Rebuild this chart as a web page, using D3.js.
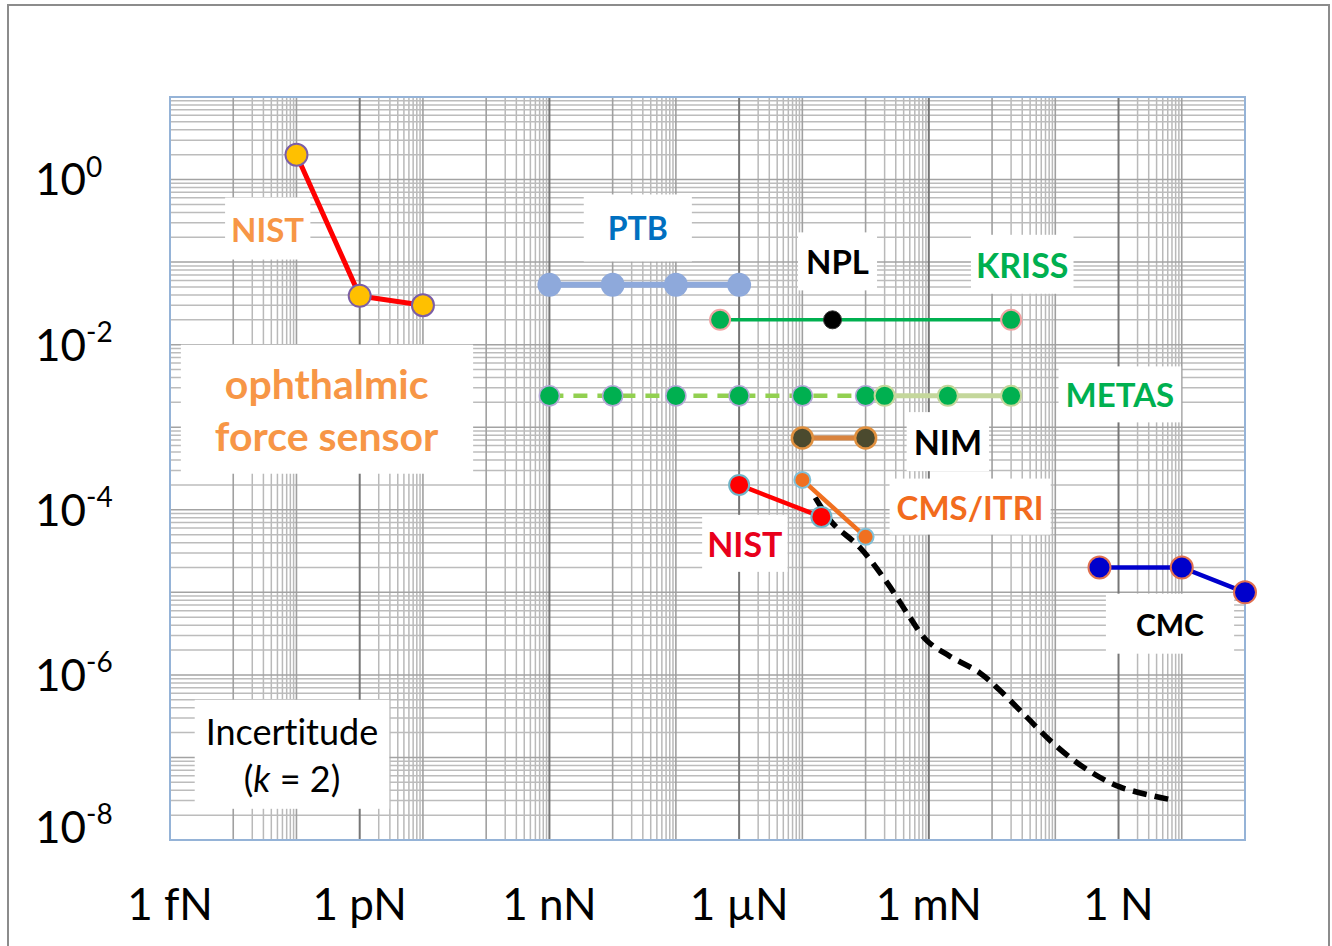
<!DOCTYPE html>
<html>
<head>
<meta charset="utf-8">
<script src="https://cdn.jsdelivr.net/npm/d3@7"></script>
<style>
  body { margin: 0; background: #fff; }
  svg { display: block; font-family: Lato, 'Open Sans', sans-serif; font-variant-ligatures: none; }
</style>
</head>
<body>
<svg id="chart" width="1332" height="946"></svg>
<script>
// force (N) vs relative uncertainty, one pair of arrays per lab
const ophthF = [1e-13, 1e-12, 1e-11];
const ophthU = [2.0, 0.039, 0.030];

const ptbF = [1e-9, 1e-8, 1e-7, 1e-6];
const ptbU = [0.053, 0.053, 0.053, 0.053];

const krissF = [5e-7, 0.02];
const krissU = [0.02, 0.02];

const nplF = [3e-5];
const nplU = [0.02];

const metasF = [1e-9, 1e-8, 1e-7, 1e-6, 1e-5, 1e-4];
const metasU = [0.0024, 0.0024, 0.0024, 0.0024, 0.0024, 0.0024];
const metasF2 = [2e-4, 2e-3, 2e-2];
const metasU2 = [0.0024, 0.0024, 0.0024];

const nimF = [1e-5, 1e-4];
const nimU = [7.4e-4, 7.4e-4];

const nistF = [1e-6, 2e-5];
const nistU = [2e-4, 8.2e-5];

const itriF = [1e-5, 1e-4];
const itriU = [2.3e-4, 4.7e-5];

const cmcF = [0.5, 10, 100];
const cmcU = [2e-5, 2e-5, 1e-5];

// dashed curve (state of the art, large forces)
const limitF = [1.6e-5, 3.0e-5, 8.1e-5, 2.2e-4, 5.0e-4, 9.3e-4, 2.1e-3, 6.5e-3, 1.3e-2, 3.5e-2, 9.1e-2, 0.28, 1.05, 6.5];
const limitU = [1.4e-4, 6.9e-5, 3.5e-5, 1.3e-5, 5.0e-6, 2.6e-6, 1.7e-6, 1.05e-6, 6.6e-7, 3.1e-7, 1.5e-7, 7.6e-8, 4.4e-8, 3.1e-8];

const xTicks = [1e-15, 1e-12, 1e-9, 1e-6, 1e-3, 1];
const xTickLabels = ['1 fN', '1 pN', '1 nN', '1 µN', '1 mN', '1 N'];
const yTicks = [1, 1e-2, 1e-4, 1e-6, 1e-8];
const yTickExp = ['0', '-2', '-4', '-6', '-8'];

// annotations, anchored in data space (centre of text block)
const labelText = [['NIST'], ['PTB'], ['NPL'], ['KRISS'], ['METAS'], ['NIM'], ['CMS/ITRI'], ['NIST'], ['CMC'],
  ['ophthalmic', 'force sensor'], ['Incertitude', '(k = 2)']];
const labelF = [3.5e-14, 2.5e-8, 3.6e-5, 0.03, 1.05, 2e-3, 4.5e-3, 1.23e-6, 6.5, 3e-13, 8.5e-14];
const labelU = [0.245, 0.25, 0.098, 0.09, 0.0024, 6.4e-4, 1.05e-4, 3.75e-5, 4e-6, 1.6e-3, 1.05e-7];

const labelStyle = [
  {color: '#F79646', size: 33, weight: 700, px: 6, py: 11},
  {color: '#0070C0', size: 32, weight: 700, px: 24, py: 14},
  {color: '#000', size: 33, weight: 700, px: 8, py: 9},
  {color: '#00B050', size: 34, weight: 700, px: 5, py: 9},
  {color: '#00B050', size: 33, weight: 700, px: 7, py: 8},
  {color: '#000', size: 34, weight: 700, px: 7, py: 9},
  {color: '#F26B1D', size: 33, weight: 700, px: 7, py: 8},
  {color: '#E8001C', size: 34, weight: 700, px: 5, py: 8},
  {color: '#000', size: 30, weight: 700, px: 30, py: 12},
  {color: '#F79646', size: 41, weight: 700, px: 34, py: 14, lh: 52},
  {color: '#000', size: 36, weight: 400, px: 11, py: 9, lh: 47}
];

const svg = d3.select('#chart');
const plotLeft = 170, plotRight = 1245, plotTop = 97, plotBottom = 840;

const x = d3.scaleLog().domain([1e-15, 1e2]).range([plotLeft, plotRight]);
const y = d3.scaleLog().domain([1e1, 1e-8]).range([plotTop, plotBottom]);

// outer frame of the picture
svg.append('rect')
  .attr('x', 8).attr('y', 5).attr('width', 1321).attr('height', 950)
  .attr('fill', 'none').attr('stroke', '#8c8c8c').attr('stroke-width', 2);

const grid = svg.append('g');

// vertical grid: every decade, minor lines only in the even decades
for (let e = -14; e <= 0; e += 2) {
  for (let k = 2; k <= 9; k++) {
    grid.append('line')
      .attr('x1', x(k * 10 ** e)).attr('x2', x(k * 10 ** e))
      .attr('y1', plotTop).attr('y2', plotBottom)
      .attr('stroke', '#b9b9b9').attr('stroke-width', 1.5);
  }
}
// horizontal grid: every decade with minors
for (let e = -8; e <= 0; e++) {
  for (let k = 1; k <= 9; k++) {
    if (k === 1 && e === -8) continue;
    grid.append('line')
      .attr('x1', plotLeft).attr('x2', plotRight)
      .attr('y1', y(k * 10 ** e)).attr('y2', y(k * 10 ** e))
      .attr('stroke', k === 1 ? '#a3a3a3' : '#bcbcbc').attr('stroke-width', 1.5);
  }
}
for (let e = -14; e <= 1; e++) {
  const major = e % 3 === 0;
  grid.append('line')
    .attr('x1', x(10 ** e)).attr('x2', x(10 ** e))
    .attr('y1', plotTop).attr('y2', plotBottom)
    .attr('stroke', major ? '#767676' : '#a0a0a0')
    .attr('stroke-width', major ? 2 : 1.6);
}

svg.append('rect')
  .attr('x', plotLeft).attr('y', plotTop)
  .attr('width', plotRight - plotLeft).attr('height', plotBottom - plotTop)
  .attr('fill', 'none').attr('stroke', '#95B3D7').attr('stroke-width', 2);

// axis labels (the end ones sit a little inside the frame)
const yl = svg.append('g');
yTicks.forEach((v, i) => {
  const cy = Math.max(plotTop + 76, Math.min(plotBottom - 13, y(v)));
  const t = yl.append('text')
    .attr('x', 35).attr('y', cy).attr('dy', '0.36em')
    .attr('font-size', 44).attr('fill', '#000');
  t.append('tspan').text('10');
  t.append('tspan').attr('dy', '-0.66em').attr('font-size', 28).text(yTickExp[i]);
});

svg.append('g').selectAll('text')
  .data(xTicks)
  .join('text')
    .attr('x', d => x(d)).attr('y', 920)
    .attr('text-anchor', 'middle')
    .attr('font-size', 44).attr('fill', '#000')
    .text((d, i) => xTickLabels[i]);

// layers: white boxes, then marks, then label text on top
const labelBoxes = svg.append('g');
const marks = svg.append('g');
const labels = svg.append('g');

labelText.forEach((lines, i) => {
  const s = labelStyle[i];
  const lh = s.lh || s.size;
  const cx = x(labelF[i]), cy = y(labelU[i]);
  const t = labels.append('text')
    .attr('text-anchor', 'middle')
    .attr('font-size', s.size).attr('font-weight', s.weight)
    .attr('fill', s.color);
  lines.forEach((ln, j) => {
    const ts = t.append('tspan')
      .attr('x', cx)
      .attr('y', cy + (j - (lines.length - 1) / 2) * lh)
      .attr('dy', '0.35em');
    if (ln === '(k = 2)') {
      ts.append('tspan').text('(');
      ts.append('tspan').attr('font-style', 'italic').text('k');
      ts.append('tspan').text(' = 2)');
    } else {
      ts.text(ln);
    }
  });
  const b = t.node().getBBox();
  labelBoxes.append('rect')
    .attr('x', b.x - s.px).attr('y', b.y - s.py)
    .attr('width', b.width + 2 * s.px).attr('height', b.height + 2 * s.py)
    .attr('fill', '#fff');
});

const pts = (F, U) => F.map((f, i) => [f, U[i]]);
const line = d3.line().x(d => x(d[0])).y(d => y(d[1]));

// dashed limit curve, behind the other series
marks.append('path')
  .datum(pts(limitF, limitU))
  .attr('d', d3.line().x(d => x(d[0])).y(d => y(d[1])).curve(d3.curveCatmullRom))
  .attr('fill', 'none').attr('stroke', '#000').attr('stroke-width', 5.5)
  .attr('stroke-dasharray', '14,8');

function series(F, U, o) {
  const data = pts(F, U);
  if (data.length > 1) {
    marks.append('path')
      .datum(data)
      .attr('d', line)
      .attr('fill', 'none')
      .attr('stroke', o.line).attr('stroke-width', o.lw)
      .attr('stroke-dasharray', o.dash || null);
  }
  marks.append('g').selectAll('circle')
    .data(data)
    .join('circle')
      .attr('cx', d => x(d[0])).attr('cy', d => y(d[1]))
      .attr('r', o.r)
      .attr('fill', o.fill)
      .attr('stroke', o.stroke || 'none').attr('stroke-width', o.sw || 2);
}

series(ophthF, ophthU, {line: '#FF0000', lw: 5, r: 11, fill: '#FFC000', stroke: '#7B5EA7', sw: 2});
series(ptbF, ptbU, {line: '#8EA9DB', lw: 6, r: 12, fill: '#8EA9DB'});
series(krissF, krissU, {line: '#00B050', lw: 3.5, r: 10, fill: '#00B050', stroke: '#F2A3A3', sw: 2});
series(nplF, nplU, {r: 9, fill: '#000', stroke: '#333', sw: 1});
series(metasF, metasU, {line: '#92D050', lw: 4.5, dash: '14,10', r: 10, fill: '#00B050', stroke: '#B4A7D6', sw: 1.5});
series(metasF2, metasU2, {line: '#C4D79B', lw: 5, r: 10, fill: '#00B050', stroke: '#C4D79B', sw: 2});
series(nimF, nimU, {line: '#D9843F', lw: 5, r: 10.5, fill: '#4B4A2E', stroke: '#E0903F', sw: 2.5});
series(itriF, itriU, {line: '#F07020', lw: 4.5, r: 8, fill: '#F07020', stroke: '#7FC0D8', sw: 2});
series(nistF, nistU, {line: '#FF0000', lw: 4.5, r: 10, fill: '#FF0000', stroke: '#6FB5C8', sw: 2});
series(cmcF, cmcU, {line: '#0000CC', lw: 4.5, r: 11, fill: '#0000CC', stroke: '#E07050', sw: 2});
</script>
</body>
</html>
